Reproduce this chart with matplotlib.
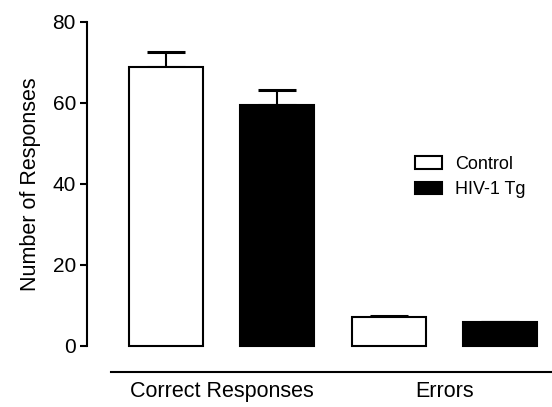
import numpy as np
import matplotlib
matplotlib.use("Agg")
import matplotlib.pyplot as plt
from matplotlib.patches import Patch

plt.rcParams['font.family'] = ['Liberation Sans', 'DejaVu Sans']

# --- data ---
groups = ['Correct Responses', 'Errors']
series = ['Control', 'HIV-1 Tg']
control_mean = [68.8, 7.1]
control_sem = [3.7, 0.3]
tg_mean = [59.4, 5.8]
tg_sem = [3.8, 0.2]
y_ticks = [0, 20, 40, 60, 80]

fig = plt.figure(figsize=(5.52, 4.07), dpi=100)
ax = fig.add_axes([0.1576, 0.1499, 0.8424, 0.797])

x = np.arange(len(groups)) * 2
w = 0.665
lw = 1.5

ax.bar(x, control_mean, width=w, color='white', edgecolor='black',
       linewidth=lw, clip_on=False, zorder=2)
ax.bar(x + 1, tg_mean, width=w, color='black', edgecolor='black',
       linewidth=lw, clip_on=False, zorder=2)

# upward-only SEM bars
for xs, m, e in [(x, control_mean, control_sem), (x + 1, tg_mean, tg_sem)]:
    ax.errorbar(xs, m, yerr=[np.zeros(len(e)), e], fmt='none', ecolor='black',
                elinewidth=1.5, capsize=13.7, capthick=2.2, zorder=1)

ax.set_xlim(-0.71, 3.467)
ax.set_ylim(0, 80)
ax.set_yticks(y_ticks)
ax.set_xticks([])
ax.tick_params(axis='y', direction='out', length=5, width=1.5, labelsize=15, pad=3)
for s in ['top', 'right', 'bottom']:
    ax.spines[s].set_visible(False)
ax.spines['left'].set_linewidth(1.5)
ax.set_ylabel('Number of Responses', fontsize=15.5, labelpad=8)

# separator line under the bars + group labels
ax.plot([0.051, 1.0], [-0.079, -0.079], transform=ax.transAxes, color='black',
        linewidth=1.5, clip_on=False)
for xc, name in zip(x + 0.5, groups):
    ax.text(xc, -0.141, name, transform=ax.get_xaxis_transform(),
            ha='center', va='center', fontsize=15.5)

handles = [Patch(facecolor='white', edgecolor='black', linewidth=lw),
           Patch(facecolor='black', edgecolor='black', linewidth=lw)]
ax.legend(handles, series, loc='center left', bbox_to_anchor=(415 / 552, 1 - 177 / 407),
          bbox_transform=fig.transFigure, frameon=False, fontsize=13,
          handlelength=1.5, handleheight=0.67, handletextpad=0.72,
          labelspacing=0.45, borderpad=0, borderaxespad=0)

fig.savefig('out.png', dpi=100)
